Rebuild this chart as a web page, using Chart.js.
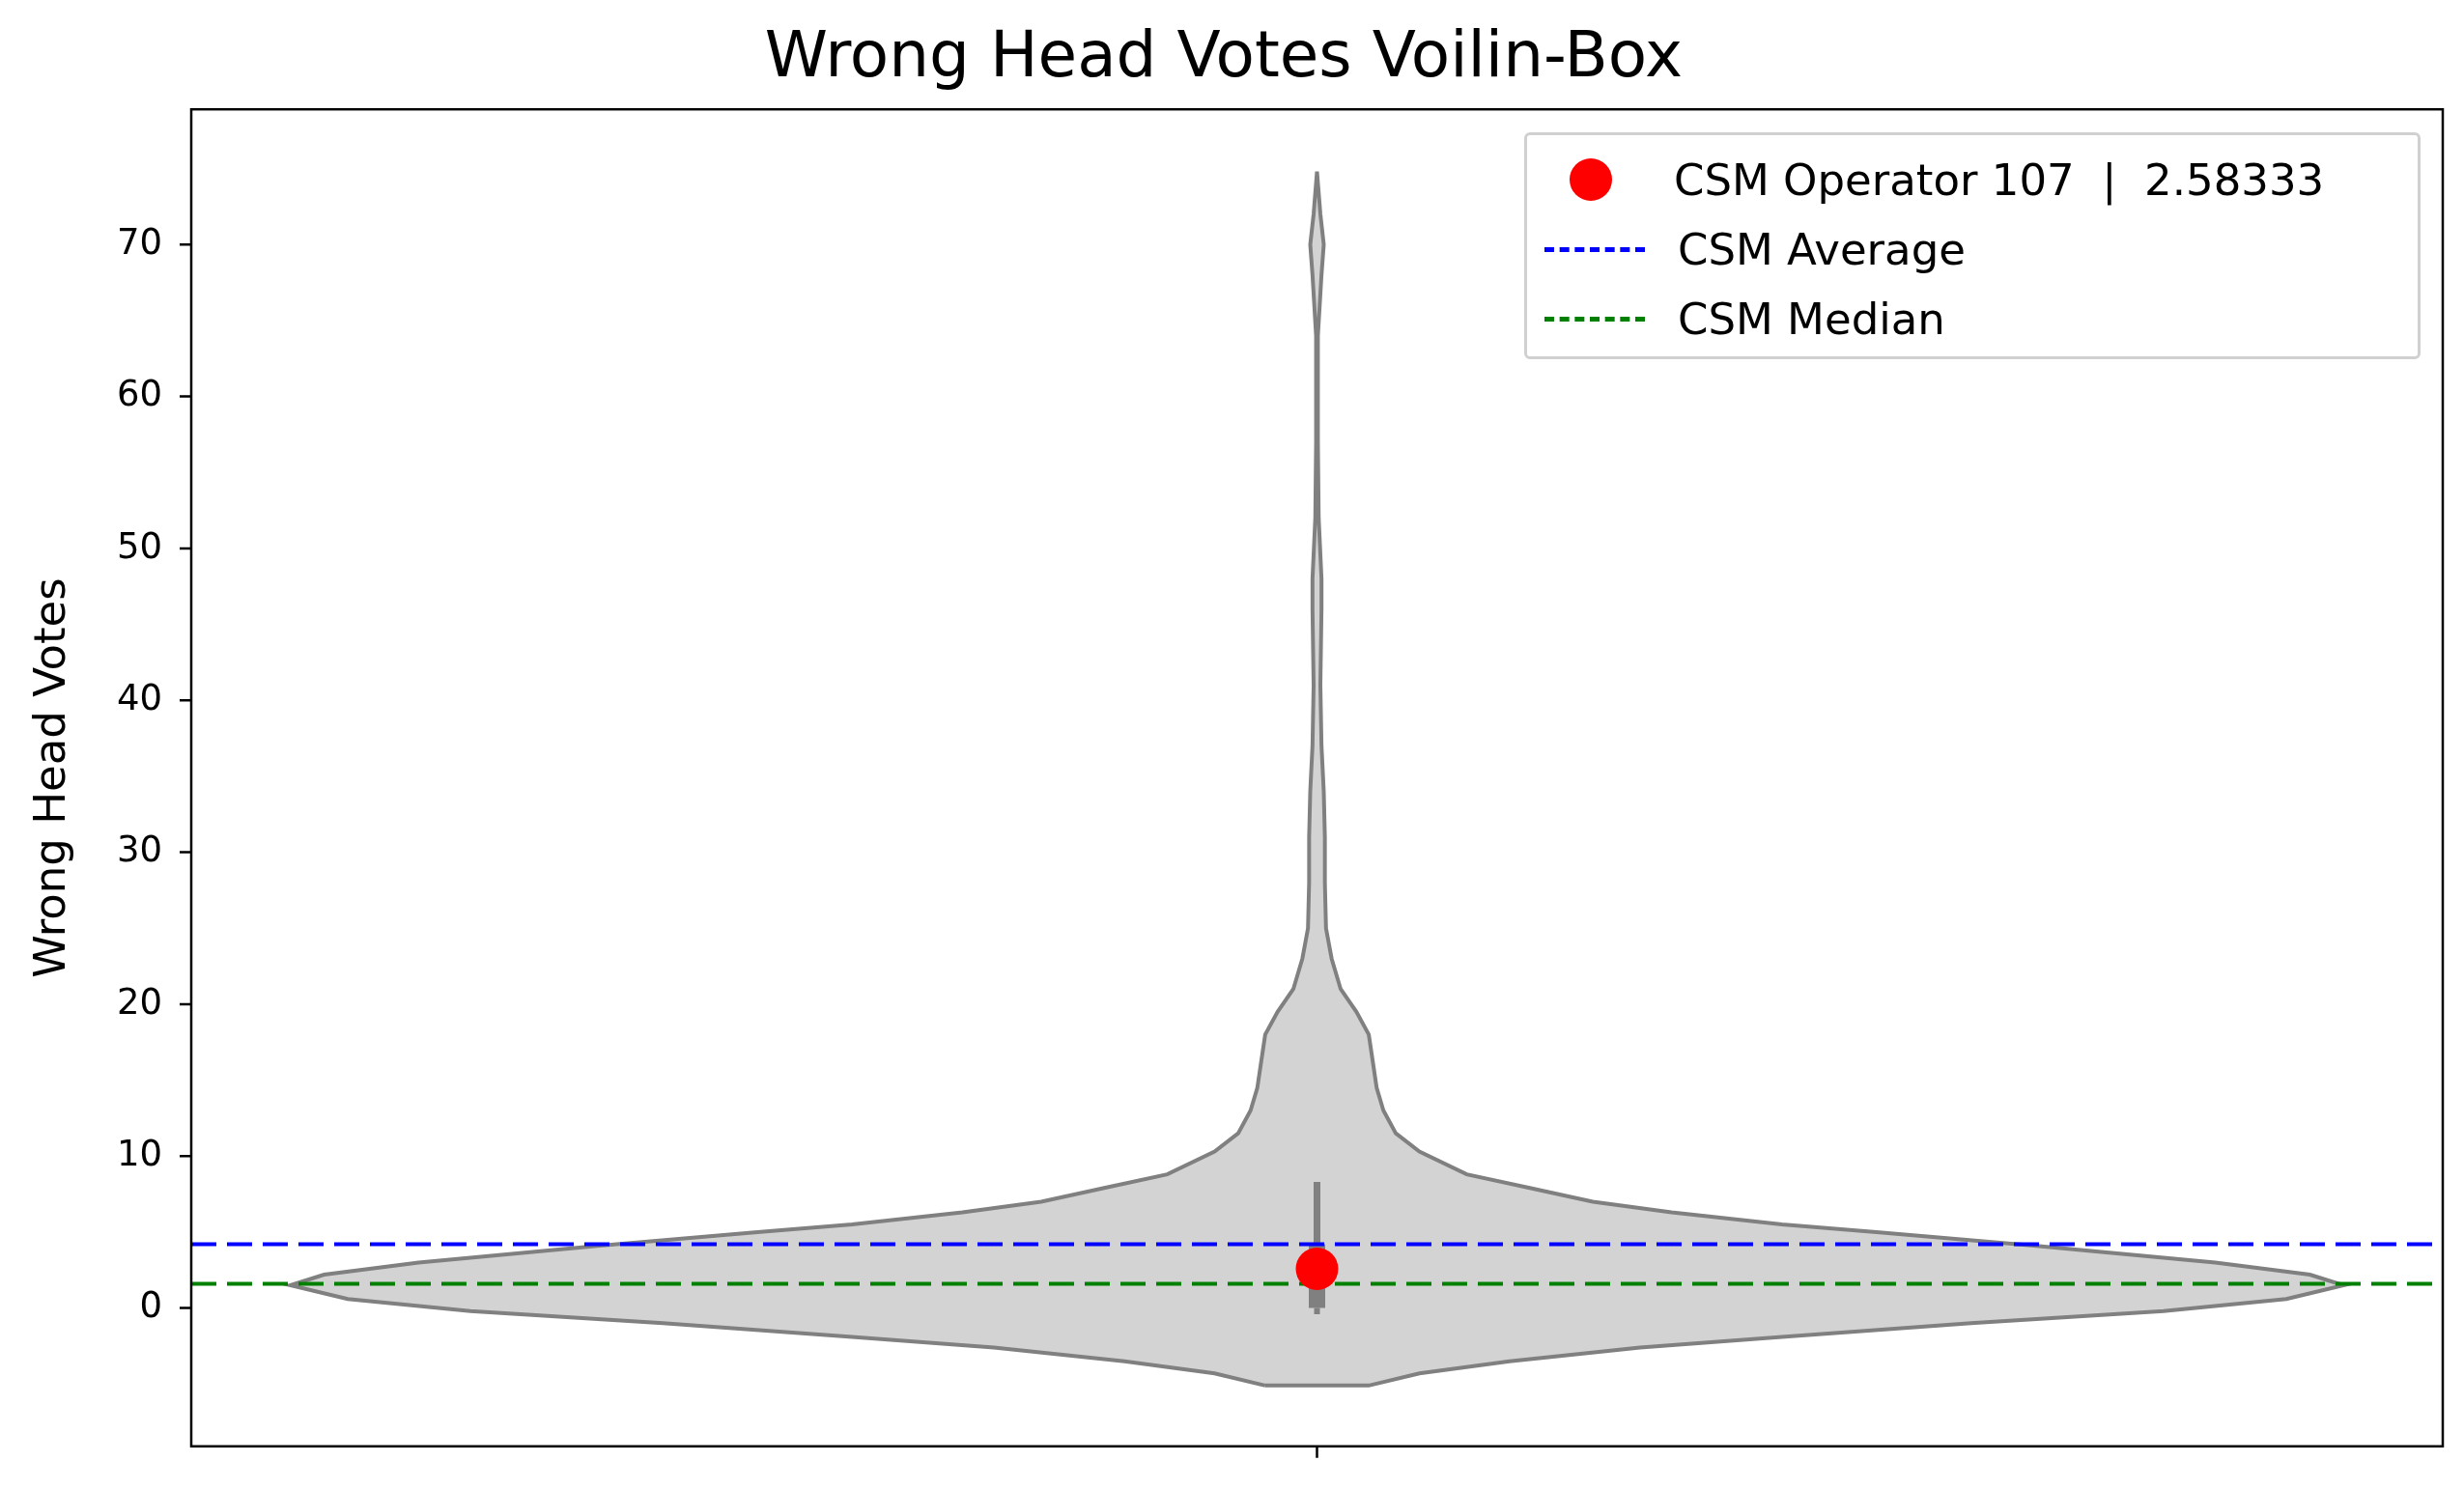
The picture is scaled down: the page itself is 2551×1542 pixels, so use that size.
<!DOCTYPE html>
<html>
<head>
<meta charset="utf-8">
<script src="https://cdn.jsdelivr.net/npm/chart.js@4"></script>
<style>
  body { margin: 0; background: #fff; }
  #wrap { position: relative; width: 2551px; height: 1542px; font-family: "DejaVu Sans", sans-serif; }
  #legend {
    position: absolute; left: 1578px; top: 137px; width: 928px; height: 235px;
    border: 3px solid #d0d0d0; border-radius: 6px; background: rgba(255,255,255,0.85);
    box-sizing: border-box; font-size: 45px; color: #000;
  }
  .row { position: absolute; left: 0; height: 60px; display: flex; align-items: center; white-space: nowrap; }
  .sym { width: 108px; display: flex; justify-content: center; }
  .dash { width: 104px; height: 0; border-top: 5px dashed; }
</style>
</head>
<body>
<div id="wrap">
  <canvas id="c" width="2551" height="1542"></canvas>
  <div id="legend">
    <div class="row" style="top:16px"><div class="sym"><div style="width:44px;height:44px;border-radius:50%;background:#ff0000;margin-left:24px"></div></div><span style="margin-left:44px">CSM Operator 107&nbsp; |&nbsp; 2.58333</span></div>
    <div class="row" style="top:88px"><div class="dash" style="border-color:#0000ff;margin-left:18px"></div><span style="margin-left:34px">CSM Average</span></div>
    <div class="row" style="top:160px"><div class="dash" style="border-color:#008000;margin-left:18px"></div><span style="margin-left:34px">CSM Median</span></div>
  </div>
</div>
<script>
// violin profile: y value and half width (x units)
const violinY = [-5.1, -4.3, -3.5, -2.6, -1.9, -1.0, -0.2, 0.6, 1.5, 2.2, 3.0, 4.1, 5.0, 5.5, 6.3, 7.0, 7.9, 8.8, 10.3, 11.5, 13, 14.5, 16, 18, 19.5, 21, 23, 25, 28, 31, 34, 37, 41, 46, 48, 52, 57, 64, 68, 70, 72, 74.8];
const violinHalf = [0.046, 0.091, 0.171, 0.287, 0.413, 0.581, 0.752, 0.861, 0.912, 0.882, 0.798, 0.637, 0.497, 0.413, 0.315, 0.245, 0.189, 0.133, 0.091, 0.070, 0.059, 0.053, 0.050, 0.046, 0.035, 0.021, 0.013, 0.008, 0.007, 0.007, 0.006, 0.004, 0.003, 0.004, 0.004, 0.0015, 0.0008, 0.0008, 0.004, 0.006, 0.003, 0];
const boxQ = [0, 4.2];
const whisker = [4.2, 8.3];
const operatorValue = 2.58333;
const csmAverage = 4.2;
const csmMedian = 1.6;
const yTicks = [0, 10, 20, 30, 40, 50, 60, 70];

const outline = [];
for (let i = 0; i < violinY.length; i++) outline.push({ x: -violinHalf[i], y: violinY[i] });
for (let i = violinY.length - 1; i >= 0; i--) outline.push({ x: violinHalf[i], y: violinY[i] });
outline.push(outline[0]);

const frame = {
  id: "frame",
  afterDatasetsDraw(chart) {
    const a = chart.chartArea, ctx = chart.ctx;
    const ys = chart.scales.y, xs = chart.scales.x;
    ctx.save();
    ctx.strokeStyle = "#000"; ctx.lineWidth = 2.5;
    ctx.strokeRect(a.left, a.top, a.right - a.left, a.bottom - a.top);
    ctx.beginPath();
    yTicks.forEach(v => { const p = ys.getPixelForValue(v); ctx.moveTo(a.left, p); ctx.lineTo(a.left - 12, p); });
    const px = xs.getPixelForValue(0);
    ctx.moveTo(px, a.bottom); ctx.lineTo(px, a.bottom + 12);
    ctx.stroke();
    ctx.restore();
  }
};

const dash = [26, 11];
new Chart(document.getElementById("c"), {
  type: "scatter",
  data: {
    datasets: [
      { data: [{ x: 0, y: operatorValue }], pointRadius: 22, backgroundColor: "#ff0000", borderWidth: 0, order: 0 },
      { data: [{ x: -1, y: csmAverage }, { x: 1, y: csmAverage }], showLine: true, borderColor: "#0000ff", borderWidth: 4, borderDash: dash, pointRadius: 0, order: 1 },
      { data: [{ x: -1, y: csmMedian }, { x: 1, y: csmMedian }], showLine: true, borderColor: "#008000", borderWidth: 4, borderDash: dash, pointRadius: 0, order: 1 },
      { data: [{ x: 0, y: boxQ[0] }, { x: 0, y: boxQ[1] }], showLine: true, borderColor: "#808080", borderWidth: 17, borderCapStyle: "butt", pointRadius: 0, order: 2 },
      { data: [{ x: 0, y: whisker[0] }, { x: 0, y: whisker[1] }], showLine: true, borderColor: "#808080", borderWidth: 7, pointRadius: 0, order: 2 },
      { data: [{ x: 0, y: -0.4 }, { x: 0, y: 0 }], showLine: true, borderColor: "#808080", borderWidth: 6, pointRadius: 0, order: 2 },
      { data: outline, showLine: true, fill: "shape", backgroundColor: "#d3d3d3", borderColor: "#808080", borderWidth: 4, pointRadius: 0, tension: 0, order: 3 }
    ]
  },
  options: {
    responsive: false,
    devicePixelRatio: 1,
    animation: false,
    layout: { padding: { top: 0, right: 17, left: 0, bottom: 0 } },
    plugins: {
      legend: { display: false },
      tooltip: { enabled: false },
      title: {
        display: true, text: "Wrong Head Votes Voilin-Box", color: "#000",
        font: { family: "DejaVu Sans", size: 66, weight: "normal" },
        padding: { top: 22, bottom: 12 }
      }
    },
    scales: {
      x: {
        min: -1, max: 1,
        grid: { display: false },
        border: { display: false },
        afterBuildTicks(s) { s.ticks = [{ value: 0 }]; },
        ticks: { callback: () => "", font: { size: 1 } },
        afterFit(s) { s.height = 38; }
      },
      y: {
        min: -9.1, max: 78.9,
        grid: { display: false },
        border: { display: false },
        afterBuildTicks(s) { s.ticks = yTicks.map(v => ({ value: v })); },
        ticks: { color: "#000", font: { family: "DejaVu Sans", size: 37 }, padding: 22 },
        title: { display: true, text: "Wrong Head Votes", color: "#000", font: { family: "DejaVu Sans", size: 45 }, padding: { top: 28, bottom: 10 } },
        afterFit(s) { s.width = 198; }
      }
    }
  },
  plugins: [frame]
});
</script>
</body>
</html>
